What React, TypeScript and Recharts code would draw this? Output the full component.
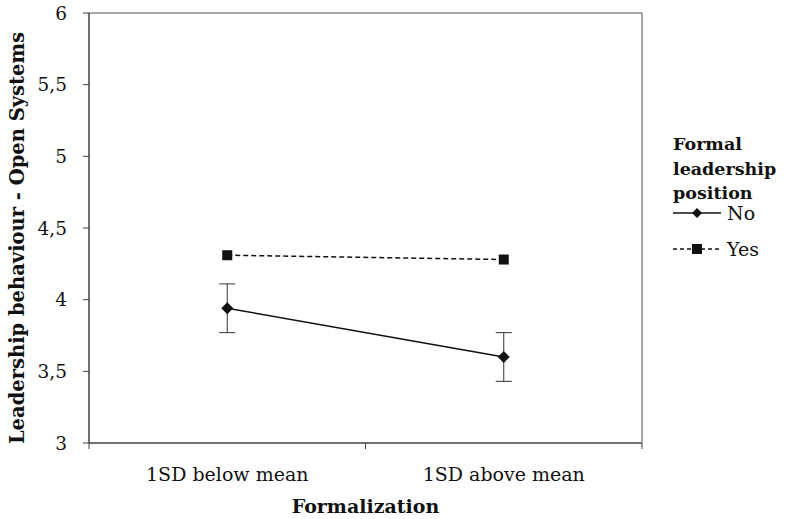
import { ComposedChart, Line, XAxis, YAxis, ErrorBar } from "recharts";

const categories = ["1SD below mean", "1SD above mean"];
const noValues = [3.94, 3.6];
const noErrors = [0.17, 0.17];
const yesValues = [4.31, 4.28];
const yTicks = [3, 3.5, 4, 4.5, 5, 5.5, 6];
const legendTitle = ["Formal", "leadership", "position"];
const seriesNames = ["No", "Yes"];

const data = categories.map((c, i) => ({
    cat: c,
    no: noValues[i],
    noErr: noErrors[i],
    yes: yesValues[i],
}));

const FONT = "'DejaVu Serif', serif";
const AXIS = "#404040";
const FRAME = "#8a8a8a";
const TICK_MARGIN = 19;
const TICK_SIZE = 6;

const diamond = (p: any) => {
    const { cx, cy, index } = p;
    if (cx == null || cy == null) return <g key={index} />;
    return (
        <path
            key={index}
            d={`M${cx},${cy - 6}L${cx + 6},${cy}L${cx},${cy + 6}L${cx - 6},${cy}Z`}
            fill="#111"
        />
    );
};

const square = (p: any) => {
    const { cx, cy, index } = p;
    if (cx == null || cy == null) return <g key={index} />;
    return <rect key={index} x={cx - 5} y={cy - 5} width={10} height={10} fill="#111" />;
};

// category label + tick marks on the band edges (between categories)
const CatTick = (p: any) => {
    const { x, y, payload, index } = p;
    const half = payload?.offset ?? 0;
    const axisY = y - TICK_MARGIN - TICK_SIZE;
    const last = index === categories.length - 1;
    return (
        <g>
            <line x1={x - half} x2={x - half} y1={axisY} y2={axisY + TICK_SIZE} stroke={AXIS} />
            {last && <line x1={x + half} x2={x + half} y1={axisY} y2={axisY + TICK_SIZE} stroke={AXIS} />}
            <text
                x={x}
                y={y}
                dy="0.71em"
                textAnchor="middle"
                fontFamily={FONT}
                fontSize={19}
                fill="#111"
            >
                {payload.value}
            </text>
        </g>
    );
};

function LegendBox() {
    return (
        <div
            style={{
                position: "absolute",
                left: 673,
                top: 132,
                width: 113,
                fontFamily: FONT,
                color: "#111",
            }}
        >
            <div style={{ fontWeight: "bold", fontSize: 17.5, lineHeight: "24.5px" }}>
                {legendTitle.map((t) => (
                    <div key={t}>{t}</div>
                ))}
            </div>
            <div style={{ marginTop: -11 }}>
                {seriesNames.map((name, i) => (
                    <div key={name} style={{ display: "flex", alignItems: "center", height: 36, fontSize: 19 }}>
                        <svg width={50} height={14} style={{ marginRight: 4 }}>
                            <line
                                x1={0}
                                x2={48}
                                y1={7}
                                y2={7}
                                stroke="#111"
                                strokeWidth={1.5}
                                strokeDasharray={i === 1 ? "4 3" : undefined}
                            />
                            {i === 0 ? (
                                <path d="M24,2L29,7L24,12L19,7Z" fill="#111" />
                            ) : (
                                <rect x={19} y={2} width={10} height={10} fill="#111" />
                            )}
                        </svg>
                        <span>{name}</span>
                    </div>
                ))}
            </div>
        </div>
    );
}

export default function App() {
    return (
        <div style={{ position: "absolute", left: 0, top: 0, width: 786, height: 519, background: "#fff" }}>
            <ComposedChart
                width={786}
                height={519}
                data={data}
                margin={{ top: 12, right: 143, bottom: 36, left: 29 }}
            >
                <XAxis
                    xAxisId="cat"
                    dataKey="cat"
                    scale="band"
                    height={40}
                    axisLine={{ stroke: AXIS, strokeWidth: 1.5 }}
                    tickLine={false}
                    tickSize={TICK_SIZE}
                    tickMargin={TICK_MARGIN}
                    tick={CatTick}
                    label={{
                        content: (props: any) => {
                            const vb = props.viewBox;
                            return (
                                <text
                                    x={vb.x + vb.width / 2}
                                    y={506}
                                    textAnchor="middle"
                                    dominantBaseline="central"
                                    fontFamily={FONT}
                                    fontSize={19}
                                    fontWeight="bold"
                                    fill="#111"
                                >
                                    Formalization
                                </text>
                            );
                        },
                    }}
                />
                <XAxis
                    xAxisId="top"
                    orientation="top"
                    type="number"
                    domain={[0, 1]}
                    height={1}
                    tick={false}
                    tickLine={false}
                    axisLine={{ stroke: FRAME, strokeWidth: 1.5 }}
                />
                <YAxis
                    yAxisId="left"
                    domain={[3, 6]}
                    ticks={yTicks}
                    width={60}
                    axisLine={{ stroke: AXIS, strokeWidth: 1.5 }}
                    tickLine={{ stroke: AXIS }}
                    tickSize={6}
                    tickMargin={16}
                    tickFormatter={(v: number) => String(v).replace(".", ",")}
                    tick={{ fontFamily: FONT, fontSize: 18.5, fill: "#111" }}
                    label={{
                        content: () => (
                            <text
                                x={17}
                                y={238}
                                transform="rotate(-90, 17, 238)"
                                textAnchor="middle"
                                dominantBaseline="central"
                                fontFamily={FONT}
                                fontSize={19.5}
                                fontWeight="bold"
                                fill="#111"
                            >
                                Leadership behaviour - Open Systems
                            </text>
                        ),
                    }}
                />
                <YAxis
                    yAxisId="right"
                    orientation="right"
                    domain={[3, 6]}
                    width={1}
                    tick={false}
                    tickLine={false}
                    axisLine={{ stroke: FRAME, strokeWidth: 1.5 }}
                />
                <Line
                    xAxisId="cat"
                    yAxisId="left"
                    dataKey="yes"
                    name="Yes"
                    stroke="#111"
                    strokeWidth={1.5}
                    strokeDasharray="5 3"
                    dot={square}
                    isAnimationActive={false}
                />
                <Line
                    xAxisId="cat"
                    yAxisId="left"
                    dataKey="no"
                    name="No"
                    stroke="#111"
                    strokeWidth={1.5}
                    dot={diamond}
                    isAnimationActive={false}
                >
                    <ErrorBar dataKey="noErr" width={8} stroke="#333" strokeWidth={1} direction="y" />
                </Line>
            </ComposedChart>
            <LegendBox />
        </div>
    );
}
